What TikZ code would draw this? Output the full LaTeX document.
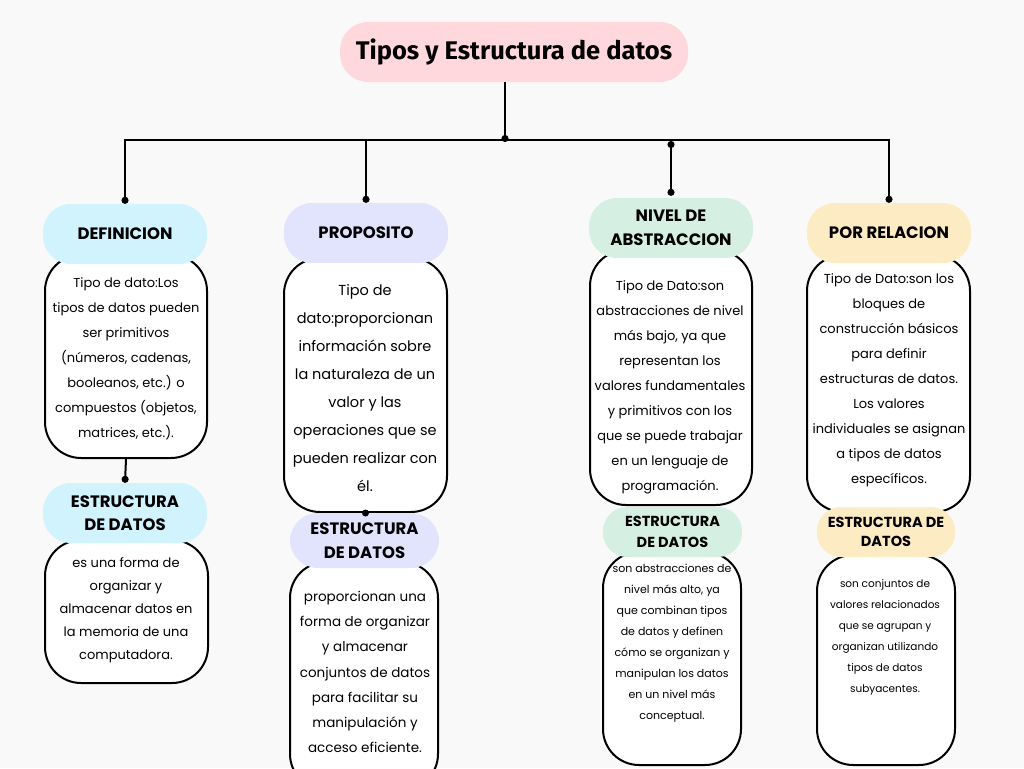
\documentclass[tikz,border=0pt]{standalone}
\usepackage{fontspec}
\setmainfont{Poppins}
\newfontfamily\titlefont{Fira Sans}
\usetikzlibrary{positioning, arrows.meta}
\definecolor{Fondo}{HTML}{F9F9F9}
\definecolor{Rosa}{HTML}{FFD8DE}
\definecolor{Celeste}{HTML}{D0F3FD}
\definecolor{Lila}{HTML}{E2E3FD}
\definecolor{Menta}{HTML}{D5F0E2}
\definecolor{Crema}{HTML}{FDEBC3}

\begin{document}
\begin{tikzpicture}[x=1pt, y=-1pt,
    header/.style={rectangle, rounded corners=28pt, minimum width=164pt, minimum height=60pt, inner sep=0pt, align=center, font=\bfseries\fontsize{16.5}{23.5}\selectfont},
    txtbox/.style={draw, line width=2pt, fill=white, rounded corners=36pt, inner sep=0pt},
    body/.style={align=center, inner sep=0pt, font=\fontsize{13}{25}\selectfont},
    link/.style={line width=2pt},
    dot/.style={line width=2pt, -{Circle[length=7pt]}}]
            % Fondo
            \path[use as bounding box, fill=Fondo] (0,0) rectangle (1024,768);

            % Titulo
            \node[header, fill=Rosa, minimum width=348pt, minimum height=60pt, font=\titlefont\bfseries\fontsize{25.5}{30}\selectfont] (title) at (514,52) {Tipos y Estructura de datos};
            \coordinate (hub) at (505,142);

            % Cajas de texto
            \node[txtbox, minimum width=162pt, minimum height=203pt] (defT) at (126,356.5) {};
            \node[txtbox, minimum width=163pt, minimum height=254pt] (propT) at (365.5,385) {};
            \node[txtbox, minimum width=162pt, minimum height=255pt] (nivT) at (671,377.5) {};
            \node[txtbox, minimum width=163pt, minimum height=257pt] (porT) at (888.5,383.5) {};
            \node[txtbox, minimum width=163pt, minimum height=143pt] (defET) at (126.5,611.5) {};
            \node[txtbox, minimum width=148pt, minimum height=228pt] (propET) at (364,676) {};
            \node[txtbox, minimum width=138pt, minimum height=213pt] (nivET) at (672,658.5) {};
            \node[txtbox, minimum width=138pt, minimum height=210pt] (porET) at (886,660) {};

            % Encabezados
            \node[header, fill=Celeste] (defH) at (125,234) {DEFINICION};
            \node[header, fill=Lila] (propH) at (366,233) {PROPOSITO};
            \node[header, fill=Menta] (nivH) at (671,228) {NIVEL DE\\ABSTRACCION};
            \node[header, fill=Crema] (porH) at (889,233) {POR RELACION};
            \node[header, fill=Celeste] (defE) at (125,513) {ESTRUCTURA\\DE DATOS};
            \node[header, fill=Lila, minimum width=149pt, minimum height=55pt] (propE) at (364.5,540.5) {ESTRUCTURA\\DE DATOS};
            \node[header, fill=Menta, minimum width=139pt, minimum height=50pt, rounded corners=24pt, font=\bfseries\fontsize{14.5}{21}\selectfont] (nivE) at (672.5,532) {ESTRUCTURA\\DE DATOS};
            \node[header, fill=Crema, minimum width=138pt, minimum height=50pt, rounded corners=24pt, font=\bfseries\fontsize{14.5}{19.5}\selectfont] (porE) at (886,532) {ESTRUCTURA DE\\DATOS};

            % Textos
            \node[body] (defTxt) at (126,359) {Tipo de dato:Los\\tipos de datos pueden\\ser primitivos\\(números, cadenas,\\booleanos, etc.) o\\compuestos (objetos,\\matrices, etc.).};
            \node[body, font=\fontsize{14.5}{28}\selectfont] (propTxt) at (365,388.5) {Tipo de\\dato:proporcionan\\información sobre\\la naturaleza de un\\valor y las\\operaciones que se\\pueden realizar con\\él.};
            \node[body] (nivTxt) at (670,387) {Tipo de Dato:son\\abstracciones de nivel\\más bajo, ya que\\representan los\\valores fundamentales\\y primitivos con los\\que se puede trabajar\\en un lenguaje de\\programación.};
            \node[body] (porTxt) at (889,380) {Tipo de Dato:son los\\bloques de\\construcción básicos\\para definir\\estructuras de datos.\\Los valores\\individuales se asignan\\a tipos de datos\\específicos.};
            \node[body, font=\fontsize{13}{23}\selectfont] (defETxt) at (126,610.5) {es una forma de\\organizar y\\almacenar datos en\\la memoria de una\\computadora.};
            \node[body, font=\fontsize{13.5}{25.3}\selectfont] (propETxt) at (365,672) {proporcionan una\\forma de organizar\\y almacenar\\conjuntos de datos\\para facilitar su\\manipulación y\\acceso eficiente.};
            \node[body, font=\fontsize{11}{21}\selectfont] (nivETxt) at (672,643.5) {son abstracciones de\\nivel más alto, ya\\que combinan tipos\\de datos y definen\\cómo se organizan y\\manipulan los datos\\en un nivel más\\conceptual.};
            \node[body, font=\fontsize{10.5}{21}\selectfont] (porETxt) at (885,637.5) {son conjuntos de\\valores relacionados\\que se agrupan y\\organizan utilizando\\tipos de datos\\subyacentes.};

            % Conectores
            \draw[dot] (title.south -| hub) -- (hub);
            \draw[link, {Circle[length=7pt]}-{Circle[length=7pt]}] (defH.north) -- (defH.north |- 0,140) -- (porH.north |- 0,140) -- (porH.north);
            \draw[dot] (propH.north |- 0,140) -- (propH.north);
            \draw[link, {Circle[length=7pt]}-{Circle[length=7pt]}] (nivH.north |- 0,141) -- ([yshift=2pt]nivH.north);
            \draw[dot] (defT.south) -- (defE.north);
            \fill (propT.south) circle (3.5pt);
\end{tikzpicture}
\end{document}
